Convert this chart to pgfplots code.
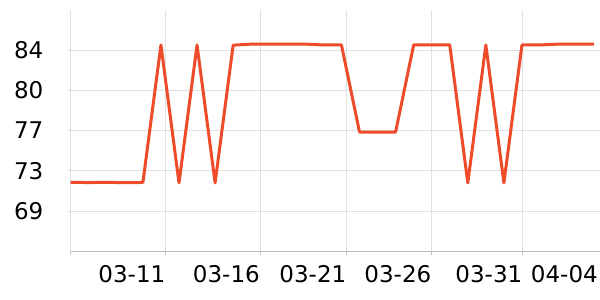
\documentclass[border=0pt]{standalone}
\usepackage{fontspec}
\setmainfont{DejaVu Sans}
\usepackage{pgfplots}
\pgfplotsset{compat=1.18}
\definecolor{lineC}{RGB}{238,75,43}
\definecolor{gridC}{RGB}{224,224,224}
\definecolor{axisC}{RGB}{190,190,190}
\begin{document}
\begin{tikzpicture}[x=1pt,y=1pt]
\path[use as bounding box] (0,0) rectangle (600,300);
\begin{axis}[
  at={(70.5pt,48pt)}, anchor=south west,
  scale only axis, width=529.5pt, height=242pt,
  xmin=70.5, xmax=600, ymin=65.18, ymax=87.73,
  axis x line*=bottom, axis y line*=left,
  x axis line style={axisC, line width=1pt, -},
  y axis line style={gridC, line width=1pt, -},
  xtick={70.5,165.5,260,346.5,431.5,522.5},
  xticklabels={,03-11,03-16,03-21,03-26,03-31},
  extra x ticks={598},
  extra x tick labels={04-04},
  extra x tick style={grid=none, tick style={draw=none}},
  ytick={69,72.75,76.5,80.25,84},
  yticklabels={69,73,77,80,84},
  xmajorgrids, ymajorgrids,
  grid style={gridC, line width=1pt},
  major tick length=3pt,
  tick align=outside,
  x tick style={axisC, line width=1pt},
  y tick style={gridC, line width=1pt},
  tick label style={font=\fontsize{23}{27}\selectfont, inner sep=0pt},
  xticklabel style={anchor=north east, yshift=-10pt},
  yticklabel style={anchor=east, xshift=-24pt},
  /pgf/number format/assume math mode=true,
  clip=false,
]
\addplot[lineC, line width=3pt, line join=round] coordinates {
(70.7,71.67) (88.75,71.65) (106.8,71.67) (124.85,71.64) (142.9,71.66)
(160.95,84.47) (179.0,71.62) (197.05,84.47) (215.1,71.62) (233.15,84.45)
(251.2,84.55) (269.25,84.55) (287.3,84.55) (305.35,84.55) (323.4,84.47)
(341.45,84.47) (359.5,76.36) (377.55,76.36) (395.6,76.36) (413.65,84.47)
(431.7,84.47) (449.75,84.47) (467.8,71.62) (485.85,84.47) (503.9,71.62)
(521.95,84.47) (540.0,84.47) (558.05,84.55) (576.1,84.55) (594.15,84.55)
};
\end{axis}
\end{tikzpicture}
\end{document}
